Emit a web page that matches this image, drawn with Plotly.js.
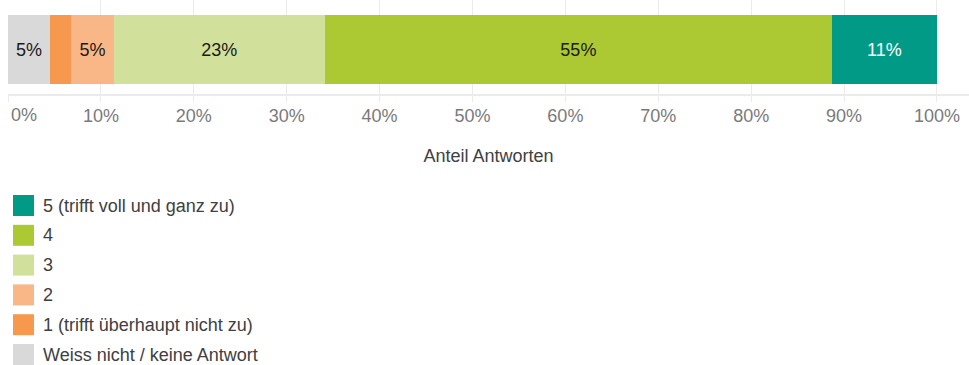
<!DOCTYPE html>
<html>
<head>
<meta charset="utf-8">
<script src="https://cdn.plot.ly/plotly-3.0.1.min.js"></script>
<style>html,body{margin:0;padding:0;background:#fff;}#chart{width:969px;height:365px;}</style>
</head>
<body>
<div id="chart"></div>
<script>
// Data
const categories = ["Weiss nicht / keine Antwort", "1 (trifft überhaupt nicht zu)", "2", "3", "4", "5 (trifft voll und ganz zu)"];
const values = [4.5, 2.3, 4.6, 22.7, 54.6, 11.3];
const colors = ["#d9d9d9", "#f6994f", "#f9b787", "#d1e19b", "#acc933", "#009a87"];
const textColors = ["#1a1a1a", "#1a1a1a", "#1a1a1a", "#1a1a1a", "#1a1a1a", "#ffffff"];
const showLabel = [true, false, true, true, true, true];
const tickValues = [0, 10, 20, 30, 40, 50, 60, 70, 80, 90, 100];
const xTitle = "Anteil Antworten";
const rowName = "Antworten";

const FONT = "Liberation Sans, Arial, sans-serif";
const FS = 18;
const W = 969, H = 365;
const M = {l: 8, r: 0, t: 0, b: 271};
const pw = W - M.l - M.r, ph = H - M.t - M.b;
const px2x = p => (p - M.l) / pw;
const py2y = p => (ph + M.t - p) / ph;

const traces = categories.map((c, i) => ({
  type: "bar",
  orientation: "h",
  name: c,
  y: [rowName],
  x: [values[i]],
  marker: {color: colors[i], line: {width: 0}},
  texttemplate: "%{x:.0f}%",
  textposition: showLabel[i] ? "inside" : "none",
  insidetextanchor: "middle",
  constraintext: "none",
  textfont: {family: FONT, size: FS, color: textColors[i]},
  hoverinfo: "skip",
  showlegend: false
}));

// Custom legend (square swatches), top = last category
const shapes = [], annotations = [];
const n = categories.length;
for (let k = 0; k < n; k++) {
  const i = n - 1 - k;
  const cy = 205.5 + k * 29.8;
  shapes.push({type: "rect", xref: "paper", yref: "paper",
    x0: px2x(13), x1: px2x(34), y0: py2y(cy - 10.5), y1: py2y(cy + 10.5),
    fillcolor: colors[i], line: {width: 0}});
  annotations.push({xref: "paper", yref: "paper", x: px2x(41), y: py2y(cy),
    xanchor: "left", yanchor: "middle", showarrow: false, text: categories[i],
    font: {family: FONT, size: FS, color: "#404040"}});
}
// first tick label is shifted right so that it stays inside the page
annotations.push({xref: "paper", yref: "paper", x: px2x(9), y: py2y(115),
  xanchor: "left", yanchor: "middle", showarrow: false, text: tickValues[0] + "%",
  font: {family: FONT, size: FS, color: "#7a7a7a"}});

const layout = {
  width: W, height: H,
  margin: M,
  paper_bgcolor: "#fff", plot_bgcolor: "#fff",
  barmode: "stack",
  bargap: 0.266,
  showlegend: false,
  xaxis: {
    range: [0, 103.45],
    tickvals: tickValues,
    ticktext: tickValues.map((v, j) => j === 0 ? "" : v + "%"),
    showgrid: true, gridcolor: "#ebebeb", gridwidth: 1,
    showline: true, linecolor: "#ebebeb", linewidth: 2,
    ticks: "outside", ticklen: 6, tickcolor: "#ebebeb", tickwidth: 1,
    ticklabelstandoff: -2,
    zeroline: false,
    tickfont: {family: FONT, size: FS, color: "#7a7a7a"},
    title: {text: xTitle, font: {family: FONT, size: FS, color: "#404040"}, standoff: 25},
    automargin: false,
    fixedrange: true
  },
  yaxis: {
    type: "category",
    range: [-0.47, 0.53],
    showticklabels: false, showgrid: false, zeroline: false, showline: false, ticks: "",
    automargin: false, fixedrange: true
  },
  shapes: shapes,
  annotations: annotations,
  font: {family: FONT}
};

Plotly.newPlot("chart", traces, layout, {displayModeBar: false, staticPlot: true});
</script>
</body>
</html>
